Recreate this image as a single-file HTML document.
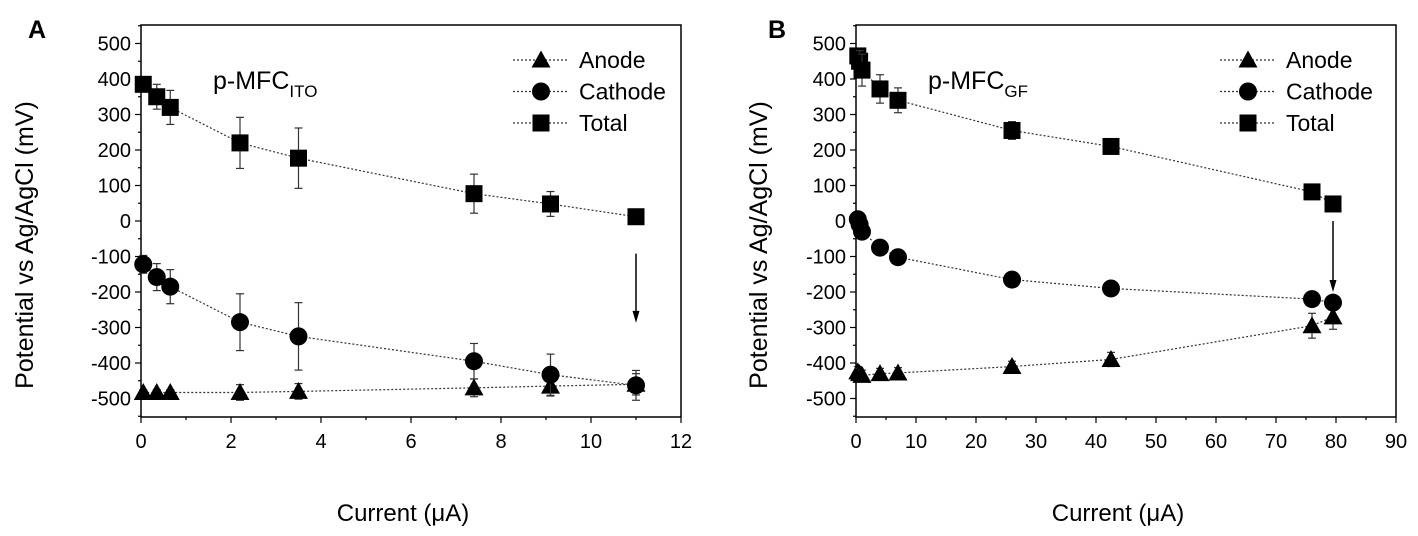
<!DOCTYPE html>
<html><head><meta charset="utf-8">
<style>
html,body{margin:0;padding:0;background:#fff;}
svg{display:block;font-family:"Liberation Sans",Arial,sans-serif;}
</style></head>
<body>
<svg id="fig" width="1418" height="536" viewBox="0 0 1418 536" xmlns="http://www.w3.org/2000/svg"></svg>
<script>
// ---- Panel A data ----
const aCurrent = [0.05, 0.35, 0.65, 2.2, 3.5, 7.4, 9.1, 11];
const aTotal = [385, 350, 320, 220, 177, 77, 48, 12];
const aTotalErr = [12, 35, 48, 72, 85, 55, 35, 5];
const aCathode = [-122, -158, -185, -285, -325, -395, -433, -463];
const aCathodeErr = [25, 38, 48, 80, 95, 50, 58, 42];
const aAnode = [-483, -483, -483, -483, -480, -470, -465, -460];
const aAnodeErr = [8, 8, 8, 22, 22, 25, 28, 30];
const aXTicks = [0, 2, 4, 6, 8, 10, 12];
// ---- Panel B data ----
const bCurrent = [0.3, 0.6, 1, 4, 7, 26, 42.5, 76, 79.5];
const bTotal = [465, 450, 425, 372, 340, 255, 210, 82, 48];
const bTotalErr = [20, 30, 45, 40, 35, 25, 8, 5, 5];
const bCathode = [5, -10, -30, -75, -102, -165, -190, -220, -230];
const bCathodeErr = [5, 5, 5, 5, 5, 5, 5, 5, 5];
const bAnode = [-425, -430, -435, -430, -428, -410, -390, -295, -270];
const bAnodeErr = [15, 15, 15, 15, 15, 15, 20, 35, 35];
const bXTicks = [0, 10, 20, 30, 40, 50, 60, 70, 80, 90];
const yTicks = [500, 400, 300, 200, 100, 0, -100, -200, -300, -400, -500];

const NS = "http://www.w3.org/2000/svg";
const svg = document.getElementById('fig');
function el(tag, attrs, parent, txt){
  const e = document.createElementNS(NS, tag);
  for (const k in attrs) e.setAttribute(k, attrs[k]);
  if (txt !== undefined) e.textContent = txt;
  (parent || svg).appendChild(e);
  return e;
}

function panel(cfg){
  const g = el('g', {});
  
  
  const L = cfg.left, R = cfg.right, T = 25, B = 417;
  const xs = v => L + (v - cfg.xmin) / (cfg.xmax - cfg.xmin) * (R - L);
  const ys = v => 221 - v * 0.355;
  const fr = el('rect', {x:L, y:T, width:R-L, height:B-T, fill:'none', stroke:'#000', 'stroke-width':1.5}, g);
  
  
  for (let v = -550; v <= 550; v += 50) {
    const y = ys(v);
    if (y < T - 1 || y > B + 1) continue;
    const major = v % 100 === 0;
    el('line', {x1:L - (major ? 6 : 3), x2:L, y1:y, y2:y, stroke:'#000', 'stroke-width':1.2}, g);
  }
  yTicks.forEach(v => {
    const t = el('text', {x:L - 10, y:ys(v) + 7, 'text-anchor':'end', 'font-size':20}, g, String(v));
    
    
  });
  for (let v = cfg.xmin; v <= cfg.xmax + 1e-9; v += cfg.minor) {
    const major = Math.abs(v / cfg.major - Math.round(v / cfg.major)) < 1e-6;
    el('line', {x1:xs(v), x2:xs(v), y1:B, y2:B + (major ? 6 : 3), stroke:'#000', 'stroke-width':1.2}, g);
  }
  cfg.xticks.forEach(v => {
    const t = el('text', {x:xs(v), y:448, 'text-anchor':'middle', 'font-size':20}, g, String(v));
    
    
  });
  const xt = el('text', {x:(L + R) / 2 - 8, y:521, 'text-anchor':'middle', 'font-size':24}, g, 'Current (μA)');
  
  
  const yt = el('text', {x:0, y:0, 'text-anchor':'middle', 'font-size':25, transform:`translate(${cfg.ytx},245) rotate(-90)`}, g, 'Potential vs Ag/AgCl (mV)');
  
  
  const pl = el('text', {x:cfg.letterX, y:38, 'font-size':25, 'font-weight':'bold'}, g, cfg.letter);
  
  
  const it = el('text', {x:cfg.titleX, y:89, 'font-size':25}, g);
  
  
  el('tspan', {}, it, 'p-MFC');
  el('tspan', {'font-size':17, dy:8}, it, cfg.sub);

  function marker(kind, x, y, parent){
    let m;
    if (kind === 'tri') m = el('polygon', {points:`${x},${y-9.5} ${x-9.5},${y+7.5} ${x+9.5},${y+7.5}`, fill:'#000'}, parent);
    else if (kind === 'circ') m = el('circle', {cx:x, cy:y, r:9, fill:'#000'}, parent);
    else m = el('rect', {x:x-8.5, y:y-8.5, width:17, height:17, fill:'#000'}, parent);
    return m;
  }
  function series(name, kind, xsArr, vals, errs){
    const sg = el('g', {}, g);
    
    
    const pts = xsArr.map((x, i) => xs(x) + ',' + ys(vals[i])).join(' ');
    el('polyline', {points:pts, fill:'none', stroke:'#333', 'stroke-width':1.2, 'stroke-dasharray':'2,2'}, sg);
    xsArr.forEach((x, i) => {
      const px = xs(x), y1 = ys(vals[i] + errs[i]), y2 = ys(vals[i] - errs[i]);
      el('line', {x1:px, x2:px, y1:y1, y2:y2, stroke:'#333', 'stroke-width':1.2}, sg);
      el('line', {x1:px-4, x2:px+4, y1:y1, y2:y1, stroke:'#333', 'stroke-width':1.2}, sg);
      el('line', {x1:px-4, x2:px+4, y1:y2, y2:y2, stroke:'#333', 'stroke-width':1.2}, sg);
      const m = marker(kind, px, ys(vals[i]), sg);
      
      
    });
  }
  series('anode-series', 'tri', cfg.x, cfg.anode, cfg.anodeErr);
  series('cathode-series', 'circ', cfg.x, cfg.cathode, cfg.cathodeErr);
  series('total-series', 'sq', cfg.x, cfg.total, cfg.totalErr);
  const ax = xs(cfg.arrowX);
  const ar = el('g', {}, g);
  
  
  el('line', {x1:ax, x2:ax, y1:ys(cfg.arrowFrom), y2:ys(cfg.arrowTo) - 8, stroke:'#000', 'stroke-width':1.5}, ar);
  el('polygon', {points:`${ax-3.5},${ys(cfg.arrowTo)-12} ${ax+3.5},${ys(cfg.arrowTo)-12} ${ax},${ys(cfg.arrowTo)}`, fill:'#000'}, ar);
  const labels = ['Anode', 'Cathode', 'Total'], kinds = ['tri', 'circ', 'sq'];
  labels.forEach((lab, i) => {
    const y = 60 + i * 31.5;
    const lg = el('g', {}, g);
    
    
    el('line', {x1:cfg.legX, x2:cfg.legX + 56, y1:y, y2:y, stroke:'#333', 'stroke-width':1.2, 'stroke-dasharray':'2,2'}, lg);
    marker(kinds[i], cfg.legX + 28, y, lg);
    el('text', {x:cfg.legX + 66, y:y + 8, 'font-size':23}, lg, lab);
  });
}

panel({name:'panel-a', left:141, right:681, xmin:0, xmax:12, major:2, minor:1, xticks:aXTicks,
  x:aCurrent, total:aTotal, totalErr:aTotalErr, cathode:aCathode, cathodeErr:aCathodeErr, anode:aAnode, anodeErr:aAnodeErr,
  arrowX:11, arrowFrom:-92, arrowTo:-287, legX:513, ytx:33, letter:'A', letterX:28, titleX:213, sub:'ITO'});
panel({name:'panel-b', left:856, right:1396, xmin:0, xmax:90, major:10, minor:5, xticks:bXTicks,
  x:bCurrent, total:bTotal, totalErr:bTotalErr, cathode:bCathode, cathodeErr:bCathodeErr, anode:bAnode, anodeErr:bAnodeErr,
  arrowX:79.5, arrowFrom:0, arrowTo:-200, legX:1220, ytx:767, letter:'B', letterX:768, titleX:928, sub:'GF'});
</script>
</body></html>
